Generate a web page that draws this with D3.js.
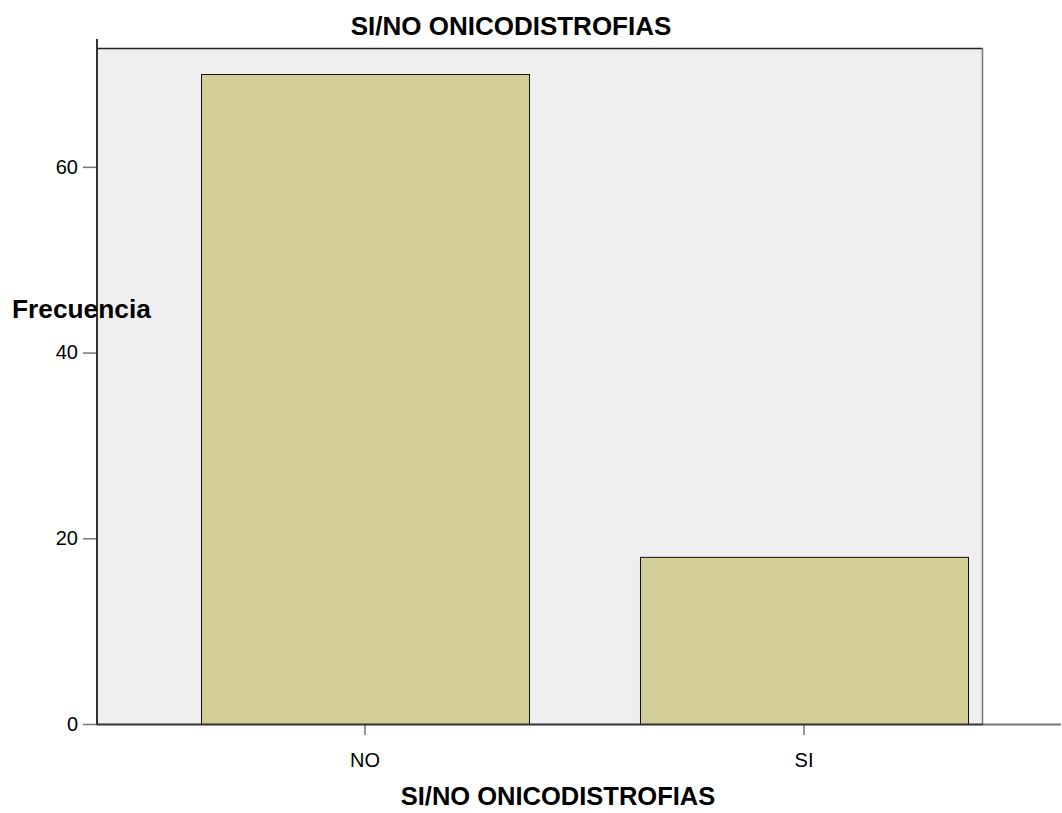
<!DOCTYPE html>
<html>
<head>
<meta charset="utf-8">
<script src="https://cdn.jsdelivr.net/npm/d3@7"></script>
<style>
  html, body { margin: 0; padding: 0; background: #fff; }
  svg { display: block; }
</style>
</head>
<body>
<svg id="chart" width="1062" height="813"></svg>
<script>
const categories = ["NO", "SI"];
const frequencies = [70, 18];
const yTicks = [0, 20, 40, 60];
const chartTitle = "SI/NO ONICODISTROFIAS";
const xTitle = "SI/NO ONICODISTROFIAS";
const yTitle = "Frecuencia";

const svg = d3.select("#chart");
const font = "'Liberation Sans', Arial, sans-serif";

const frame = { left: 97, right: 983, top: 48, bottom: 724 };

const x = d3.scaleBand().domain(categories).range([201, 968]).paddingInner(0.2528).paddingOuter(0);
const y = d3.scaleLinear().domain([0, 70]).range([724, 74]);

// plot background
svg.append("rect")
  .attr("x", frame.left).attr("y", frame.top)
  .attr("width", frame.right - frame.left).attr("height", frame.bottom - frame.top)
  .attr("fill", "#efefef");

// frame top and right
svg.append("line").attr("x1", frame.left).attr("x2", frame.right)
  .attr("y1", frame.top + 0.5).attr("y2", frame.top + 0.5)
  .attr("stroke", "#222").attr("stroke-width", 1.5);
svg.append("line").attr("x1", frame.right - 0.5).attr("x2", frame.right - 0.5)
  .attr("y1", frame.top).attr("y2", frame.bottom)
  .attr("stroke", "#777").attr("stroke-width", 1.5);

// bars
svg.selectAll("rect.bar").data(categories).enter().append("rect")
  .attr("class", "bar")
  .attr("x", d => x(d) + 0.5)
  .attr("y", (d, i) => y(frequencies[i]) + 0.5)
  .attr("width", x.bandwidth())
  .attr("height", (d, i) => y(0) - y(frequencies[i]))
  .attr("fill", "#d3ce97")
  .attr("stroke", "#111").attr("stroke-width", 1);

// Y axis
const yAxis = svg.append("g").attr("transform", `translate(${frame.left},0)`)
  .call(d3.axisLeft(y).tickValues(yTicks).tickSize(14).tickPadding(5).tickFormat(d3.format("d")));
yAxis.select(".domain").remove();
yAxis.selectAll(".tick line").attr("stroke", "#777").attr("stroke-width", 1.5);
yAxis.selectAll(".tick text").attr("font-family", font).attr("font-size", 20).attr("fill", "#000");
svg.append("line").attr("x1", frame.left).attr("x2", frame.left)
  .attr("y1", 39).attr("y2", frame.bottom + 1)
  .attr("stroke", "#333").attr("stroke-width", 2);

// X axis
const xAxis = svg.append("g").attr("transform", `translate(0,${frame.bottom})`)
  .call(d3.axisBottom(x).tickSize(11).tickPadding(18));
xAxis.select(".domain").remove();
xAxis.selectAll(".tick line").attr("stroke", "#333").attr("stroke-width", 1);
xAxis.selectAll(".tick text").attr("font-family", font).attr("font-size", 20).attr("fill", "#000");
svg.append("line").attr("x1", frame.left).attr("x2", 983)
  .attr("y1", frame.bottom + 0.5).attr("y2", frame.bottom + 0.5)
  .attr("stroke", "#333").attr("stroke-width", 2);
svg.append("line").attr("x1", 983).attr("x2", 1061)
  .attr("y1", frame.bottom + 0.5).attr("y2", frame.bottom + 0.5)
  .attr("stroke", "#777").attr("stroke-width", 2);

// titles
svg.append("text").attr("x", 511).attr("y", 35)
  .attr("text-anchor", "middle").attr("font-family", font)
  .attr("font-weight", "bold").attr("font-size", 26).text(chartTitle);
svg.append("text").attr("x", 558).attr("y", 805)
  .attr("text-anchor", "middle").attr("font-family", font)
  .attr("font-weight", "bold").attr("font-size", 25.5).text(xTitle);
svg.append("text").attr("x", 12).attr("y", 318)
  .attr("text-anchor", "start").attr("font-family", font)
  .attr("font-weight", "bold").attr("font-size", 26.3).text(yTitle);
</script>
</body>
</html>
